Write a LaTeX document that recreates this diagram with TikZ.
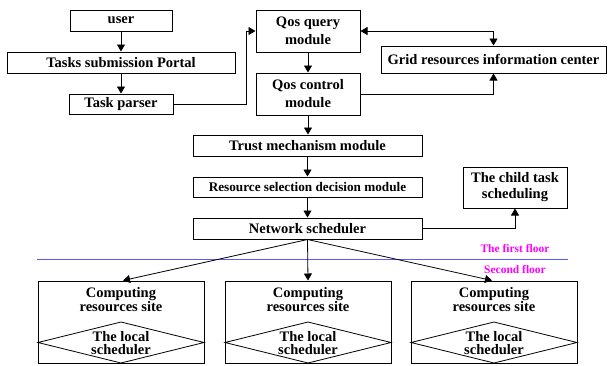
\documentclass[tikz,border=0pt]{standalone}
\usepackage{fontspec}
\setmainfont{Liberation Serif}
\usetikzlibrary{arrows.meta}
\definecolor{floorblue}{RGB}{90,90,255}
\definecolor{floormag}{RGB}{255,0,255}
\begin{document}
\begin{tikzpicture}[x=1pt,y=-1pt,
  box/.style={draw,line width=1pt,inner sep=0pt,align=center,font=\fontsize{14.5}{18}\selectfont\bfseries},
  arr/.style={line width=0.8pt,-{Triangle[length=7pt,width=8pt]}},
  darr/.style={line width=0.8pt,{Triangle[length=7pt,width=8pt]}-{Triangle[length=7pt,width=8pt]}},
  floorlbl/.style={text=floormag,font=\fontsize{11.5}{13}\selectfont\bfseries,inner sep=0pt},
  sitebox/.style={draw,line width=1pt,minimum width=166pt,minimum height=82pt,inner sep=0pt}]
\path[use as bounding box] (0,0) rectangle (608,365);
\node[box,minimum width=102pt,minimum height=21pt] (user) at (121,20.5) {user};
\node[box,minimum width=228pt,minimum height=21pt] (portal) at (121,62.5) {Tasks submission Portal};
\node[box,minimum width=104pt,minimum height=20pt] (parser) at (121,104) {Task parser};
\node[box,minimum width=104pt,minimum height=42pt] (qquery) at (308,31) {Qos query\\module};
\node[box,minimum width=104pt,minimum height=42pt] (qcontrol) at (308,94) {Qos control\\module};
\node[box,minimum width=225pt,minimum height=27pt] (grid) at (493.5,59.5) {Grid resources information center};
\node[box,minimum width=229pt,minimum height=21pt] (trust) at (307.5,145.5) {Trust mechanism module};
\node[box,minimum width=229pt,minimum height=20pt,font=\fontsize{13.2}{16}\selectfont\bfseries] (rsel) at (307.5,187) {Resource selection decision module};
\node[box,minimum width=229pt,minimum height=21pt] (net) at (307.5,228.5) {Network scheduler};
\node[box,minimum width=104pt,minimum height=41pt,font=\fontsize{14.5}{16}\selectfont\bfseries] (child) at (515,187.5) {The child task\\scheduling};
\draw[floorblue,line width=1pt] (37,259) -- (568,259);
\node[floorlbl] (f1) at (515,249) {The first floor};
\node[floorlbl] (f2) at (515,270) {Second floor};
\foreach \n/\x in {sa/121,sb/308,sc/494}{
  \node[sitebox] (\n) at (\x,322) {};
  \draw[line width=0.8pt] (\x-83,342.5) -- (\x,322) -- (\x+83,342.5) -- (\x,363) -- cycle;
  \node[align=center,inner sep=0pt,font=\fontsize{14.5}{14}\selectfont\bfseries] (\n t) at (\x,300) {Computing\\resources site};
  \node[align=center,inner sep=0pt,font=\fontsize{14.5}{13}\selectfont\bfseries] (\n d) at (\x,343) {The local\\scheduler};
}
\draw[arr] (user) -- (portal);
\draw[arr] (portal) -- (parser);
\draw[arr] (parser.east) -- ++(73,0) |- (qquery.west);
\draw[darr] (qquery.east) -| (grid.north);
\draw[arr] (qcontrol.east) -| (grid.south);
\draw[arr] (qquery) -- (qcontrol);
\draw[arr] (qcontrol.south) -- (trust.north -| qcontrol.south);
\draw[arr] (trust) -- (rsel);
\draw[arr] (rsel) -- (net);
\draw[arr] (net.east) -| (child.south);
\draw[arr] (net.south) -- ([xshift=2pt]sa.north);
\draw[arr] (net.south) -- (sb.north);
\draw[arr] (net.south) -- ([xshift=-2pt]sc.north);
\end{tikzpicture}
\end{document}
